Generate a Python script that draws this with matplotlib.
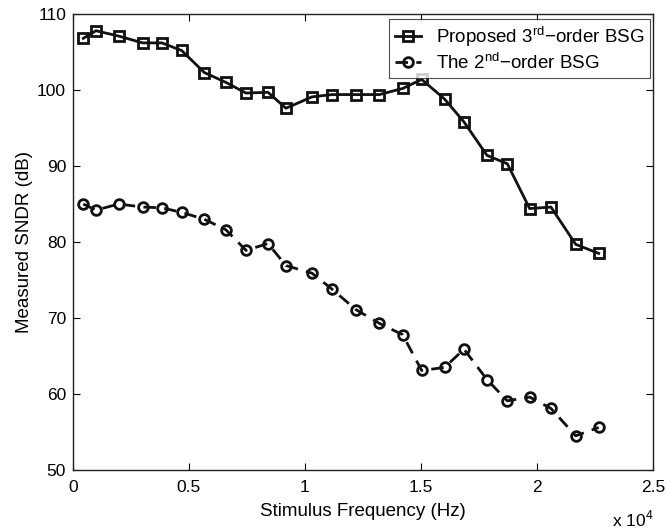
import numpy as np
import matplotlib
matplotlib.use('Agg')
import matplotlib.pyplot as plt

# Values
freq = [445, 991, 1968, 3003, 3836, 4684, 5661, 6595, 7457, 8405, 9181, 10302,
        11164, 12198, 13204, 14210, 15029, 16020, 16853, 17845, 18721, 19684,
        20603, 21667, 22658]
sndr_3rd = [106.8, 107.8, 107.1, 106.2, 106.2, 105.2, 102.3, 101.0, 99.6, 99.7,
            97.6, 99.1, 99.4, 99.4, 99.4, 100.2, 101.4, 98.8, 95.8, 91.4, 90.3,
            84.4, 84.6, 79.7, 78.5]
sndr_2nd = [85.0, 84.2, 85.0, 84.6, 84.5, 83.9, 83.0, 81.6, 78.9, 79.8, 76.9,
            75.9, 73.8, 71.1, 69.3, 67.8, 63.1, 63.5, 65.9, 61.9, 59.1, 59.6,
            58.1, 54.5, 55.6]
xticks = [0, 5000, 10000, 15000, 20000, 25000]
xtick_labels = ['0', '0.5', '1', '1.5', '2', '2.5']
yticks = [50, 60, 70, 80, 90, 100, 110]

plt.rcParams['font.family'] = ['Liberation Sans', 'DejaVu Sans']
plt.rcParams['mathtext.fontset'] = 'custom'
plt.rcParams['mathtext.rm'] = 'Liberation Sans'

fig = plt.figure(figsize=(6.67, 5.29), dpi=100)
ax = fig.add_axes([0.1094, 0.1115, 0.8696, 0.862])

ax.plot(freq, sndr_3rd, color='#111111', lw=2.0, marker='s', ms=6.5,
        mfc='none', mec='#111111', mew=2.0,
        label=r'Proposed 3$^{\rm rd}$$-$order BSG')
ax.plot(freq, sndr_2nd, color='#111111', lw=2.0, ls=(0, (4.5, 3)), marker='o', ms=7,
        mfc='none', mec='#111111', mew=2.0,
        label=r'The 2$^{\rm nd}$$-$order BSG')

ax.set_xlim(0, 25000)
ax.set_ylim(50, 110)
ax.set_xticks(xticks)
ax.set_xticklabels(xtick_labels)
ax.set_yticks(yticks)
ax.tick_params(direction='in', top=True, right=True, labelsize=12.5, length=5,
               width=0.8)
ax.tick_params(axis='x', pad=7)
ax.tick_params(axis='y', pad=5)
for s in ax.spines.values():
    s.set_linewidth(1.0)
    s.set_color('#222222')

ax.set_xlabel('Stimulus Frequency (Hz)', fontsize=13.5, labelpad=6)
ax.set_ylabel('Measured SNDR (dB)', fontsize=13.5, labelpad=3)
ax.text(1.0, -0.085, r'x 10$^{4}$', transform=ax.transAxes, ha='right',
        va='top', fontsize=12.5)

leg = ax.legend(loc='upper right', bbox_to_anchor=(0.995, 0.99), fontsize=13.5,
                frameon=True, fancybox=False, borderpad=0.3, handlelength=1.4,
                handletextpad=0.8, labelspacing=0.15, borderaxespad=0)
leg.get_frame().set_edgecolor('#222222')
leg.get_frame().set_linewidth(0.8)

fig.savefig('out.png', dpi=100)
